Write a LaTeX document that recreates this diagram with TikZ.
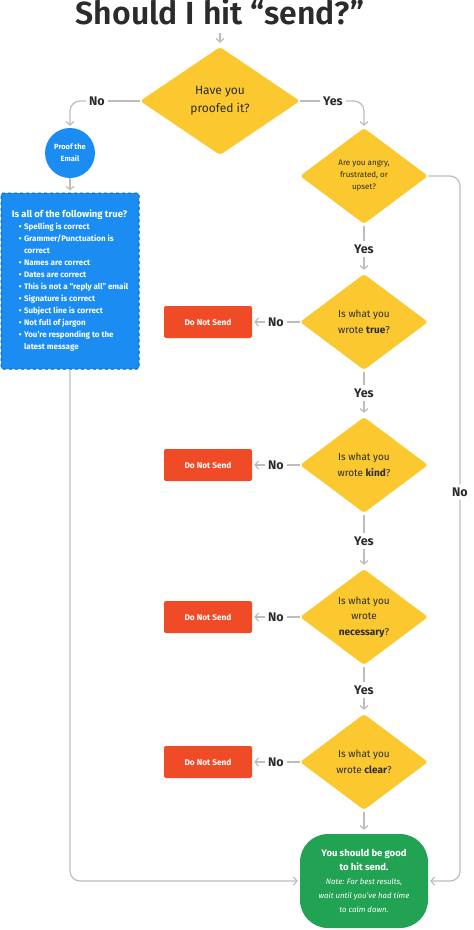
\documentclass[tikz,border=0pt]{standalone}
\usepackage{fontspec}
\setmainfont{Fira Sans}
\newfontfamily\titlefont{Fira Sans SemiBold}
\usetikzlibrary{shapes.geometric,arrows.meta}

\definecolor{qyellow}{HTML}{FBC92F}
\definecolor{stopred}{HTML}{EE4B26}
\definecolor{proofblue}{HTML}{1B8DF2}
\definecolor{edgeblue}{HTML}{0B5FB0}
\definecolor{okgreen}{HTML}{22A253}
\definecolor{linegray}{HTML}{BDBDBD}
\definecolor{txt}{HTML}{2B2B2B}

\newcommand\notefont{\fontsize{7.8}{11.5}\selectfont\mdseries\itshape}

\tikzset{
  question/.style={diamond, fill=qyellow, rounded corners=3pt, inner sep=0pt,
    minimum width=128pt, minimum height=96pt, align=center, text=txt,
    font=\fontsize{10}{15.5}\selectfont},
  stopbox/.style={rectangle, fill=stopred, rounded corners=2pt, minimum width=88pt,
    minimum height=32pt, text=white, font=\fontsize{8.3}{9}\selectfont\bfseries},
  answer/.style={text=txt, font=\fontsize{12.5}{14}\selectfont\bfseries, inner sep=3pt},
  flow/.style={draw=linegray, line width=1.2pt},
}

\begin{document}
\begin{tikzpicture}[x=1pt, y=-1pt, >={Straight Barb[length=3.5pt,width=8pt]}]
    \useasboundingbox (0,0) rectangle (474,930);
    % Nodes
    \node[text=txt, font=\fontsize{32}{32}\selectfont\titlefont, anchor=base] (title) at (220,24) {Should I hit “send?”};
    \coordinate (start) at (220,33);
    \node[question, minimum width=160pt, minimum height=108pt, font=\fontsize{12}{18}\selectfont] (q1) at (220,101) {Have you\\proofed it?};
    \node[answer] (no1)  at (97,101)  {No};
    \node[answer] (yes1) at (333,101) {Yes};
    \node[circle, fill=proofblue, minimum size=50pt, inner sep=0pt, align=center, text=white,
          font=\fontsize{7.5}{12}\selectfont\bfseries] (proof) at (70,153) {Proof the\\Email};
    \node[rectangle, fill=proofblue, draw=edgeblue, dashed, line width=1pt, rounded corners=2pt,
          minimum width=138pt, minimum height=176pt, text=white, inner sep=0pt,
          font=\fontsize{8}{12}\selectfont\bfseries] (list) at (70,281) {%
      \begin{tabular}{@{}l@{\hspace{2.5pt}}l@{}}
        \multicolumn{2}{@{}l@{}}{\fontsize{9.5}{12}\selectfont Is all of the following true?}\\
        \hspace{7pt}\textbullet & Spelling is correct\\
        \hspace{7pt}\textbullet & Grammer/Punctuation is\\
                                & correct\\
        \hspace{7pt}\textbullet & Names are correct\\
        \hspace{7pt}\textbullet & Dates are correct\\
        \hspace{7pt}\textbullet & This is not a “reply all” email\\
        \hspace{7pt}\textbullet & Signature is correct\\
        \hspace{7pt}\textbullet & Subject line is correct\\
        \hspace{7pt}\textbullet & Not full of jargon\\
        \hspace{7pt}\textbullet & You’re responding to the\\
                                & latest message
      \end{tabular}};
    \node[question, font=\fontsize{8}{12}\selectfont] (q2) at (364,176) {Are you angry,\\frustrated, or\\upset?};
    \node[answer] (yes2) at (364,249) {Yes};
    \node[question] (q3) at (364,322) {Is what you\\wrote \textbf{true}?};
    \node[answer] (yes3) at (364,393) {Yes};
    \node[question] (q4) at (364,465) {Is what you\\wrote \textbf{kind}?};
    \node[answer] (yes4) at (364,541) {Yes};
    \node[question] (q5) at (364,617) {Is what you\\wrote\\\textbf{necessary}?};
    \node[answer] (yes5) at (364,690) {Yes};
    \node[question] (q6) at (364,762) {Is what you\\wrote \textbf{clear}?};
    \foreach \i/\y in {3/322, 4/465, 5/617, 6/762} {
      \node[answer] (no\i) at (276,\y) {No};
      \node[stopbox] (dns\i) at (208,\y) {Do Not Send};
    }
    \node[answer] (noR) at (460,492) {No};
    \node[rectangle, fill=okgreen, rounded corners=28pt, minimum width=128pt, minimum height=94pt,
          align=center, text=white, inner sep=0pt, font=\fontsize{9.5}{14}\selectfont\bfseries] (good) at (364,881)
          {You should be good\\to hit send.\\\notefont Note: For best results,\\\notefont wait until you’ve had time\\\notefont to calm down.};
    % Arrows connecting the nodes
    \draw[flow, ->, shorten >=4pt] (start) -- (q1);
    \draw[flow] (q1.west) -- (no1);
    \draw[flow, ->, rounded corners=10pt, shorten >=2pt] (no1) -| (proof);
    \draw[flow] (q1.east) -- (yes1);
    \draw[flow, ->, rounded corners=10pt, shorten >=2pt] (yes1) -| (q2);
    \draw[flow, ->, shorten >=2pt] (proof) -- (list);
    \draw[flow, ->, rounded corners=10pt, shorten >=2pt] (list.south) |- (good);
    \draw[flow, rounded corners=10pt] (q2.east) -| (noR);
    \draw[flow, ->, rounded corners=10pt, shorten >=2pt] (noR) |- (good);
    \foreach \a/\y/\b in {q2/yes2/q3, q3/yes3/q4, q4/yes4/q5, q5/yes5/q6} {
      \draw[flow, shorten <=2pt] (\a) -- (\y);
      \draw[flow, ->, shorten >=4pt] (\y) -- (\b);
    }
    \foreach \i in {3,...,6} {
      \draw[flow] (q\i) -- (no\i);
      \draw[flow, ->, shorten >=2pt] (no\i) -- (dns\i);
    }
    \draw[flow, ->, shorten >=4pt, shorten <=2pt] (q6) -- (good);
\end{tikzpicture}
\end{document}
